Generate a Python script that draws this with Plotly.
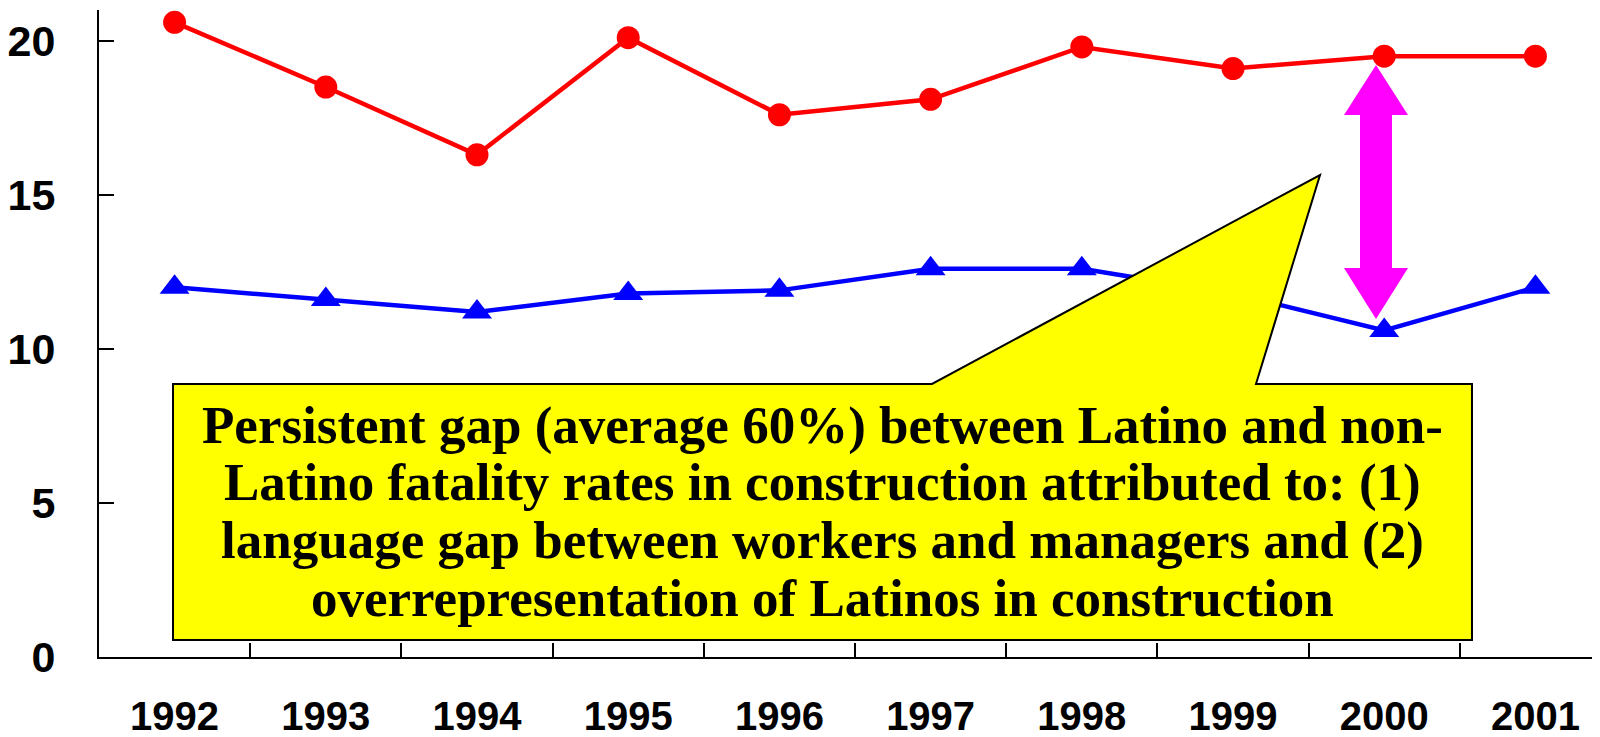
import plotly.graph_objects as go

# Construction fatality rates, Latino vs non-Latino
years = ['1992', '1993', '1994', '1995', '1996', '1997', '1998', '1999', '2000', '2001']
latino = [20.6, 18.5, 16.3, 20.1, 17.6, 18.1, 19.8, 19.1, 19.5, 19.5]
non_latino = [12.0, 11.6, 11.2, 11.8, 11.9, 12.6, 12.6, 11.8, 10.6, 12.0]
y_ticks = [0, 5, 10, 15, 20]

callout_lines = [
    'Persistent gap (average 60%) between Latino and non-',
    'Latino fatality rates in construction attributed to: (1)',
    'language gap between workers and managers and (2)',
    'overrepresentation of Latinos in construction',
]

W, H = 1600, 737
OFF = 8  # page body margin
L, R, T, B = 91, 0, 2, 88


# page pixel -> paper helpers for the decorations
def px(x):
    return (x - OFF - L) / (W - L - R)


def py(y):
    return (H - B - (y - OFF)) / (H - T - B)


def path(points):
    return 'M ' + ' L '.join(f'{px(x):.5f},{py(y):.5f}' for x, y in points) + ' Z'


fig = go.Figure()

fig.add_trace(go.Scatter(
    x=years, y=non_latino, mode='lines+markers',
    line=dict(color='#0000FF', width=4.5),
    marker=dict(symbol='triangle-up', size=26, color='#0000FF'),
))
fig.add_trace(go.Scatter(
    x=years, y=latino, mode='lines+markers',
    line=dict(color='#FF0000', width=4.5),
    marker=dict(symbol='circle', size=23, color='#FF0000'),
))

# callout box with pointer
callout = [(173, 640), (173, 384), (932, 384), (1320, 175), (1256, 384), (1472, 384), (1472, 640)]
fig.add_shape(type='path', xref='paper', yref='paper', path=path(callout),
              fillcolor='#FFFF00', line=dict(color='black', width=2), layer='above')

# magenta double arrow
ax = 1376
arrow = [(ax, 65), (ax + 32, 115), (ax + 16, 115), (ax + 16, 268), (ax + 32, 268), (ax, 319),
         (ax - 32, 268), (ax - 16, 268), (ax - 16, 115), (ax - 32, 115)]
fig.add_shape(type='path', xref='paper', yref='paper', path=path(arrow),
              fillcolor='#FF00FF', line=dict(width=0), layer='above')

for i, line in enumerate(callout_lines):
    fig.add_annotation(
        text=line, xref='paper', yref='paper', x=px(822), y=py(425 + i * 57.7),
        xanchor='center', yanchor='middle', showarrow=False,
        font=dict(family='Liberation Serif', size=53, color='black', weight='bold'),
    )

fig.update_layout(
    width=W, height=H,
    margin=dict(l=L, r=R, t=T, b=B),
    plot_bgcolor='white', paper_bgcolor='white',
    showlegend=False,
    font=dict(family='Liberation Sans', color='black'),
)
fig.update_xaxes(
    type='category', range=[-0.5, 9.48], tickson='boundaries',
    ticks='inside', ticklen=14, tickwidth=1.5, tickcolor='black',
    showline=True, linecolor='black', linewidth=2, showgrid=False,
    tickfont=dict(size=40, weight='bold'), ticklabelstandoff=23, automargin=False,
)
fig.update_yaxes(
    range=[0, 21], tickvals=y_ticks,
    ticks='inside', ticklen=15, tickwidth=1.5, tickcolor='black',
    showline=True, linecolor='black', linewidth=2, showgrid=False, zeroline=False,
    tickfont=dict(size=43, weight='bold'), ticklabelstandoff=33, automargin=False,
)

fig.write_html('out.html')
